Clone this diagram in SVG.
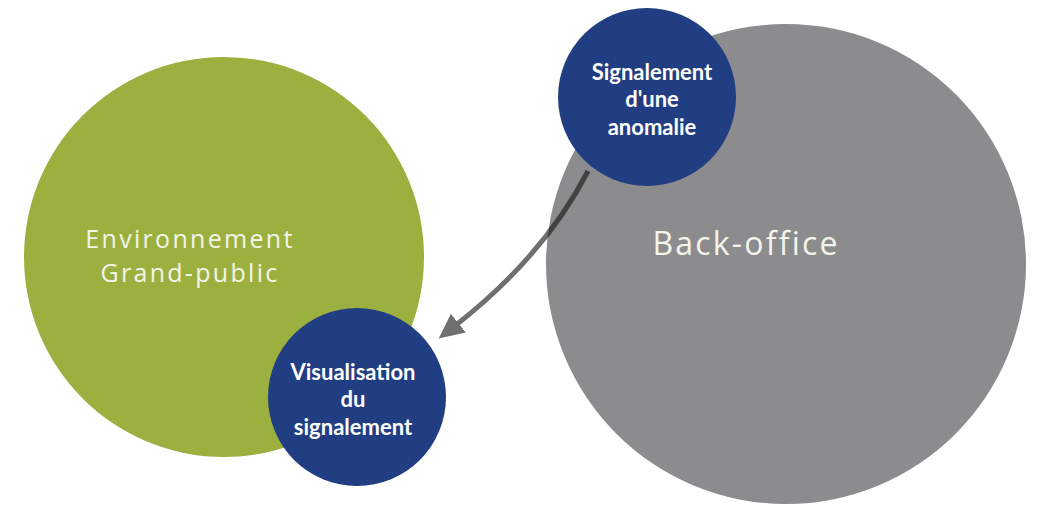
<svg xmlns="http://www.w3.org/2000/svg" width="1040" height="505" viewBox="0 0 1040 505">
<style>
.big{font-family:"Open Sans","Liberation Sans",sans-serif;font-weight:400;fill:#f4f4ea;text-anchor:middle}
.small{font-family:"Lato","Liberation Sans",sans-serif;font-weight:700;font-size:22px;fill:#ffffff;text-anchor:middle}
</style>
<defs>
<marker id="ah" markerUnits="userSpaceOnUse" markerWidth="30" markerHeight="26" refX="3" refY="12" orient="auto">
<path d="M0,0 L25,12 L0,24 Z" fill="#111"/>
</marker>
</defs>
<rect width="1040" height="505" fill="#ffffff"/>
<g id="env">
<circle cx="224" cy="257" r="200" fill="#9cb03f"/>
<text class="big" x="190" y="248" font-size="25" letter-spacing="2.3">Environnement</text>
<text class="big" x="190" y="282" font-size="25" letter-spacing="2.3">Grand-public</text>
</g>
<g id="backoffice">
<circle cx="786" cy="264" r="240" fill="#8c8c8e"/>
<text class="big" x="746" y="255" font-size="32" letter-spacing="2.2">Back-office</text>
</g>
<g id="signalement">
<circle cx="647" cy="97" r="89" fill="#213e82"/>
<text class="small" x="652" y="80">Signalement</text>
<text class="small" x="652" y="107">d'une</text>
<text class="small" x="652" y="135">anomalie</text>
</g>
<g id="visualisation">
<circle cx="357" cy="397" r="89" fill="#213e82"/>
<text class="small" x="353" y="380">Visualisation</text>
<text class="small" x="353" y="407">du</text>
<text class="small" x="353" y="435">signalement</text>
</g>
<g id="connectors" opacity="0.6">
<path d="M588,171 Q545,255 456,325" fill="none" stroke="#111" stroke-width="5" marker-end="url(#ah)"/>
</g>
</svg>
